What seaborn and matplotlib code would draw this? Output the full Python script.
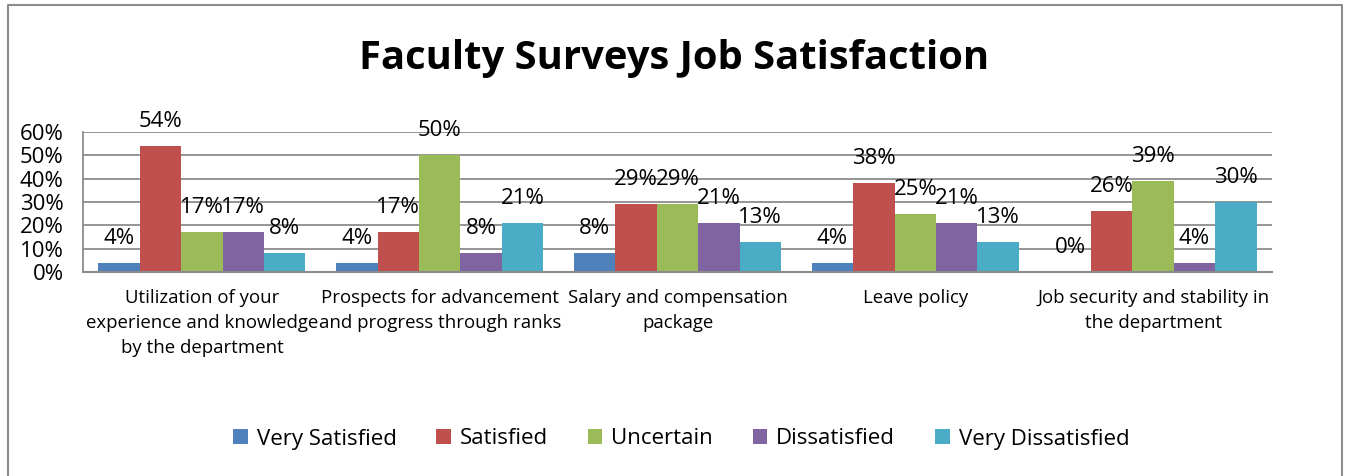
import matplotlib
matplotlib.use("Agg")
import matplotlib.pyplot as plt
from matplotlib import font_manager
import seaborn as sns
import pandas as pd
from matplotlib.lines import Line2D

categories = [
    "Utilization of your\nexperience and knowledge\nby the department",
    "Prospects for advancement\nand progress through ranks",
    "Salary and compensation\npackage",
    "Leave policy",
    "Job security and stability in\nthe department",
]
series = ["Very Satisfied", "Satisfied", "Uncertain", "Dissatisfied", "Very Dissatisfied"]
very_satisfied = [4, 4, 8, 4, 0]
satisfied = [54, 17, 29, 38, 26]
uncertain = [17, 50, 29, 25, 39]
dissatisfied = [17, 8, 21, 21, 4]
very_dissatisfied = [8, 21, 13, 13, 30]
yticks = [0, 10, 20, 30, 40, 50, 60]
colors = ["#4F81BD", "#C0504D", "#9BBB59", "#8064A2", "#4BACC6"]

values = [very_satisfied, satisfied, uncertain, dissatisfied, very_dissatisfied]
rows = []
for s, vals in zip(series, values):
    for c, v in zip(categories, vals):
        rows.append({"category": c, "series": s, "value": v})
df = pd.DataFrame(rows)

sns.set_theme(style="white")
avail = {f.name for f in font_manager.fontManager.ttflist}
font = next(f for f in ["Liberation Sans Narrow", "Open Sans", "Lato", "DejaVu Sans"] if f in avail)
plt.rcParams["font.family"] = [font, "DejaVu Sans"]
plt.rcParams["text.color"] = "black"
plt.rcParams["xtick.color"] = "black"
plt.rcParams["ytick.color"] = "black"
plt.rcParams["axes.labelcolor"] = "black"

fig = plt.figure(figsize=(13.49, 4.76), dpi=100)
ax = fig.add_axes([83 / 1349, 1 - 272 / 476, (1272 - 83) / 1349, 140 / 476])

sns.barplot(data=df, x="category", y="value", hue="series", order=categories,
            hue_order=series, palette=colors, width=0.87, gap=0, ax=ax,
            saturation=1, legend=True, edgecolor="none", linewidth=0)

for cont in ax.containers:
    ax.bar_label(cont, labels=[f"{v:.0f}%" for v in cont.datavalues],
                 padding=10, fontsize=16, color="black")

ax.set_ylim(0, 60)
ax.set_xlim(-0.5, 4.5)
ax.set_yticks(yticks)
ax.set_yticklabels([f"{t}%" for t in yticks], fontsize=16)
ax.tick_params(axis="y", length=0, pad=14)
ax.tick_params(axis="x", length=0, pad=12, labelsize=13.4)
for lbl in ax.get_xticklabels():
    lbl.set_linespacing(1.5)
ax.set_xlabel("")
ax.set_ylabel("")
ax.grid(axis="y", color="#8c8c8c", linewidth=1.3)
ax.set_axisbelow(True)
for side in ["top", "right"]:
    ax.spines[side].set_visible(False)
ax.spines["left"].set_color("#8c8c8c")
ax.spines["bottom"].set_color("#8c8c8c")
ax.spines["left"].set_linewidth(1.3)
ax.spines["bottom"].set_linewidth(1.5)

handles, labels = ax.get_legend_handles_labels()
ax.get_legend().remove()
fig.legend(handles, labels, loc="center", bbox_to_anchor=(0.505, 1 - 439 / 476),
           ncol=5, frameon=False, fontsize=16, handlelength=0.65, handleheight=0.65,
           handletextpad=0.4, columnspacing=1.8)

fig.text(0.5, 1 - 58 / 476, "Faculty Surveys Job Satisfaction", ha="center", va="center",
         fontsize=28.8, fontweight="bold", color="black")

# outer chart border
fig.add_artist(Line2D([8 / 1349, 8 / 1349, 1342 / 1349, 1342 / 1349],
                      [0, 1 - 5 / 476, 1 - 5 / 476, 0], transform=fig.transFigure,
                      color="#8c8c8c", linewidth=1.5))

fig.savefig("out.png", dpi=100)
